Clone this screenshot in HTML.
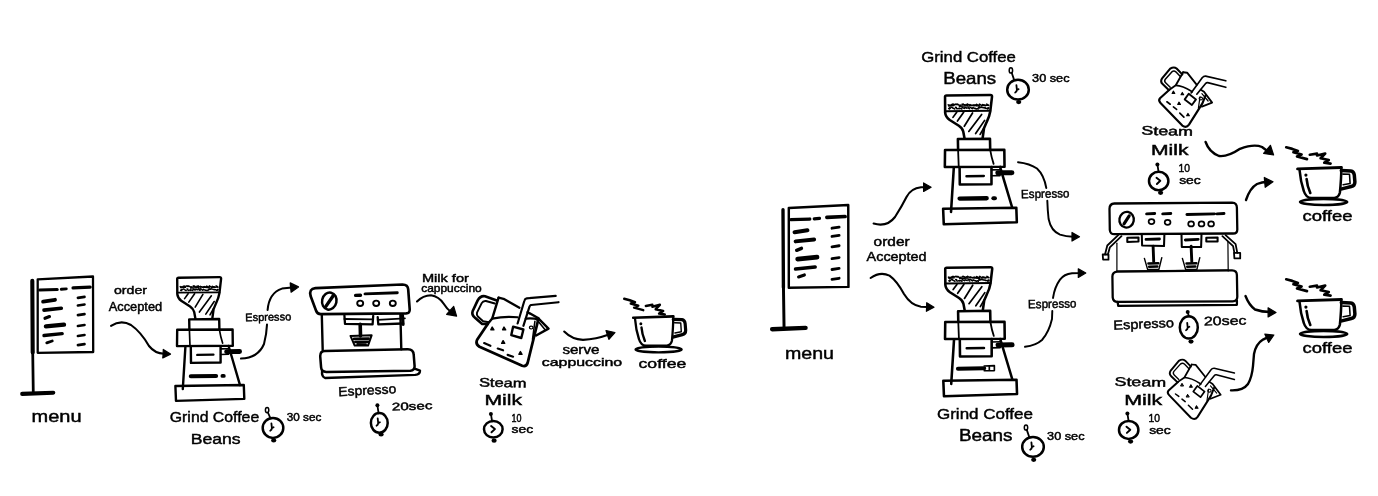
<!DOCTYPE html>
<html><head><meta charset="utf-8"><title>Coffee shop flow</title>
<style>html,body{margin:0;padding:0;background:#fff;}svg{display:block;}text{font-family:"Liberation Sans",sans-serif;fill:#000;}</style>
</head><body>
<svg width="1378" height="496" viewBox="0 0 1378 496">
<rect width="1378" height="496" fill="#fff"/>
<defs><filter id="soft" x="0" y="0" width="100%" height="100%" filterUnits="userSpaceOnUse"><feGaussianBlur stdDeviation="0.45"/></filter></defs>
<g id="art" filter="url(#soft)">
<g transform="translate(37.7 279.3) scale(1.0 1.0)">
<path d="M0 0 L55.3 -2.8 L55.5 72.7 L0 73.5 Z" stroke="#000" stroke-width="2.28" fill="none" stroke-linecap="round" stroke-linejoin="round" />
<path d="M-5.4 1.5 L-5.0 73.2" stroke="#000" stroke-width="4.08" fill="none" stroke-linecap="round" stroke-linejoin="round" />
<path d="M-5.0 71.2 L-4.4 114.2" stroke="#000" stroke-width="2.76" fill="none" stroke-linecap="round" stroke-linejoin="round" />
<path d="M-15.5 114.60000000000001 L15.6 113.4" stroke="#000" stroke-width="4.08" fill="none" stroke-linecap="round" stroke-linejoin="round" />
<path d="M2 10.7 L19.5 10.2" stroke="#000" stroke-width="3.12" fill="none" stroke-linecap="round" stroke-linejoin="round" />
<path d="M23.6 10 L28.6 9.6" stroke="#000" stroke-width="2.88" fill="none" stroke-linecap="round" stroke-linejoin="round" />
<path d="M35.4 8.6 L52.4 7.8" stroke="#000" stroke-width="3.36" fill="none" stroke-linecap="round" stroke-linejoin="round" />
<path d="M5.4 22.299999999999997 L17.3 20.5" stroke="#000" stroke-width="3.84" fill="none" stroke-linecap="round" stroke-linejoin="round" />
<path d="M6.3 30.799999999999997 L23.6 29.0" stroke="#000" stroke-width="3.6" fill="none" stroke-linecap="round" stroke-linejoin="round" />
<path d="M7.3 39.0 L11.8 37.2" stroke="#000" stroke-width="3.12" fill="none" stroke-linecap="round" stroke-linejoin="round" />
<path d="M8.2 47.1 L26.3 45.300000000000004" stroke="#000" stroke-width="4.32" fill="none" stroke-linecap="round" stroke-linejoin="round" />
<path d="M6.3 56.199999999999996 L24.5 54.4" stroke="#000" stroke-width="3.36" fill="none" stroke-linecap="round" stroke-linejoin="round" />
<path d="M9.1 63.5 L14.5 61.7" stroke="#000" stroke-width="2.88" fill="none" stroke-linecap="round" stroke-linejoin="round" />
<path d="M40.2 18.6 L46.8 17.6" stroke="#000" stroke-width="2.64" fill="none" stroke-linecap="round" stroke-linejoin="round" />
<path d="M40.2 26.2 L46.8 25.2" stroke="#000" stroke-width="2.64" fill="none" stroke-linecap="round" stroke-linejoin="round" />
<path d="M40.2 35.8 L46.8 34.8" stroke="#000" stroke-width="2.64" fill="none" stroke-linecap="round" stroke-linejoin="round" />
<path d="M40.2 46.7 L46.8 45.7" stroke="#000" stroke-width="2.64" fill="none" stroke-linecap="round" stroke-linejoin="round" />
<path d="M40.2 56.7 L46.8 55.7" stroke="#000" stroke-width="2.64" fill="none" stroke-linecap="round" stroke-linejoin="round" />
<path d="M40.2 65.8 L46.8 64.8" stroke="#000" stroke-width="2.64" fill="none" stroke-linecap="round" stroke-linejoin="round" />
</g>
<text x="31.6" y="421.7" font-size="16.5" textLength="50" lengthAdjust="spacingAndGlyphs" font-weight="normal" font-style="normal" stroke="#000" stroke-width="0.45">menu</text>
<text x="114" y="294" font-size="11.5" textLength="33" lengthAdjust="spacingAndGlyphs" font-weight="normal" font-style="normal" stroke="#000" stroke-width="0.45">order</text>
<text x="108.7" y="310.5" font-size="12" textLength="53.5" lengthAdjust="spacingAndGlyphs" font-weight="normal" font-style="normal" stroke="#000" stroke-width="0.45">Accepted</text>
<path d="M111 325.8 Q121 319.5 131 325 Q141 332 149 346 Q155 353.5 164 353.8" stroke="#000" stroke-width="2.1" fill="none" stroke-linecap="round" stroke-linejoin="round" />
<polygon points="170.5,354.1 163.3,349.4 163.1,353.7 162.8,358.0" fill="#000" stroke="#000" stroke-width="1.2" stroke-linejoin="round"/>
<g transform="translate(176.6 277.1) scale(1.0 1.0)">
<path d="M0.6 2 Q0.4 0.6 2 0.6 L43 0 Q44.6 0 44.5 1.6 L42.9 15.6 Q42 21 39.5 26 L37 32 L35.7 41.5 M0.6 2 L0.7 17 Q1 21 5 24 L13.5 29.5 Q17 32 17.6 35 L18.8 41.5" stroke="#000" stroke-width="2.4" fill="none" stroke-linecap="round" stroke-linejoin="round" />
<path d="M0.8 15.6 L42.9 15.2" stroke="#000" stroke-width="1.8" fill="none" stroke-linecap="round" stroke-linejoin="round" />
<path d="M3.6 9.5 l0.7 0.5 M4.0 13.1 l0.8 0.3 M4.9 9.7 l0.7 0.5 M4.8 12.3 l0.8 0.3 M6.3 9.4 l0.7 0.5 M6.6 11.8 l0.8 0.3 M7.3 8.9 l0.7 0.5 M7.7 12.5 l0.8 0.3 M8.3 8.9 l0.7 0.5 M8.8 13.1 l0.8 0.3 M10.1 8.8 l0.7 0.5 M10.4 11.8 l0.8 0.3 M11.3 8.8 l0.7 0.5 M11.2 13.0 l0.8 0.3 M12.3 8.9 l0.7 0.5 M13.0 13.0 l0.8 0.3 M13.6 9.8 l0.7 0.5 M14.1 12.7 l0.8 0.3 M14.8 9.7 l0.7 0.5 M15.4 13.1 l0.8 0.3 M16.5 9.0 l0.7 0.5 M16.5 11.9 l0.8 0.3 M17.4 8.7 l0.7 0.5 M17.8 12.6 l0.8 0.3 M18.6 9.4 l0.7 0.5 M19.1 12.1 l0.8 0.3 M20.3 9.2 l0.7 0.5 M20.3 12.4 l0.8 0.3 M21.5 8.7 l0.7 0.5 M22.0 11.6 l0.8 0.3 M22.8 9.6 l0.7 0.5 M22.7 12.9 l0.8 0.3 M23.9 9.3 l0.7 0.5 M24.0 11.7 l0.8 0.3 M25.1 9.7 l0.7 0.5 M25.4 12.8 l0.8 0.3 M26.8 9.7 l0.7 0.5 M26.7 12.2 l0.8 0.3 M27.8 9.5 l0.7 0.5 M27.9 12.8 l0.8 0.3 M29.3 9.6 l0.7 0.5 M29.1 13.1 l0.8 0.3 M30.1 9.0 l0.7 0.5 M30.7 13.1 l0.8 0.3 M31.6 9.7 l0.7 0.5 M32.0 12.1 l0.8 0.3 M32.8 8.8 l0.7 0.5 M33.0 11.8 l0.8 0.3 M34.3 9.8 l0.7 0.5 M34.3 11.7 l0.8 0.3 M35.8 9.2 l0.7 0.5 M35.7 12.0 l0.8 0.3 M36.8 9.6 l0.7 0.5 M37.1 12.3 l0.8 0.3 M37.8 9.7 l0.7 0.5 M38.1 12.4 l0.8 0.3 M39.5 8.8 l0.7 0.5 M39.8 13.1 l0.8 0.3 M40.7 9.5 l0.7 0.5 M40.7 12.3 l0.8 0.3 " stroke="#000" stroke-width="1.5" fill="none" stroke-linecap="round" stroke-linejoin="round" />
<path d="M4 10.6 L9 10.2 M14 11 L22 10.4 M26 10 L33 10.8 M35 10.2 L41 10" stroke="#000" stroke-width="1.32" fill="none" stroke-linecap="round" stroke-linejoin="round" />
<path d="M11.5 16.6 L8 21.5 M18 16.6 L12.2 25 M26.3 17.3 L18.6 30 M34.8 18.7 L22.8 35 M37.6 24.4 L29.2 37 M37 31.4 L33.4 37.8 " stroke="#000" stroke-width="1.62" fill="none" stroke-linecap="round" stroke-linejoin="round" />
<path d="M12.6 42.3 L42.6 41.9 L42.8 52.6 M12.6 42.3 L12.8 52.6" stroke="#000" stroke-width="2.4" fill="none" stroke-linecap="round" stroke-linejoin="round" />
<path d="M0.6 52.7 L56 52.4 L56.2 68.7 L0.4 69 Z" stroke="#000" stroke-width="2.4" fill="none" stroke-linecap="round" stroke-linejoin="round" />
<path d="M12.8 52.6 L13.4 69 M42.8 52.6 Q44 60 46 66" stroke="#000" stroke-width="1.68" fill="none" stroke-linecap="round" stroke-linejoin="round" />
<path d="M8.8 69.5 L6.2 112 M52 68.9 L63.4 108" stroke="#000" stroke-width="2.4" fill="none" stroke-linecap="round" stroke-linejoin="round" />
<path d="M14.2 69.4 L14.4 85.8 L44 85.4 L44 69" stroke="#000" stroke-width="2.4" fill="none" stroke-linecap="round" stroke-linejoin="round" />
<path d="M44 71.8 L52 71.6 M44 77.4 L52 77.2" stroke="#000" stroke-width="1.56" fill="none" stroke-linecap="round" stroke-linejoin="round" />
<path d="M50 74.6 L63 74.4" stroke="#000" stroke-width="4.8" fill="none" stroke-linecap="round" stroke-linejoin="round" />
<path d="M20.7 77.8 L36.8 77.5" stroke="#000" stroke-width="2.4" fill="none" stroke-linecap="round" stroke-linejoin="round" />
<path d="M14.2 99.2 L39.5 98.9" stroke="#000" stroke-width="4.08" fill="none" stroke-linecap="round" stroke-linejoin="round" />
<path d="M45.8 98.8 L47.2 98.8" stroke="#000" stroke-width="3.84" fill="none" stroke-linecap="round" stroke-linejoin="round" />
<path d="M-1.2 108.9 L67.2 107.9 L67.7 121.8 L-0.6 123.8 Z" stroke="#000" stroke-width="2.4" fill="none" stroke-linecap="round" stroke-linejoin="round" />
</g>
<text x="245.3" y="321.2" font-size="11" textLength="46" lengthAdjust="spacingAndGlyphs" transform="rotate(-1 245.3 321.2)" font-weight="normal" font-style="normal" stroke="#000" stroke-width="0.45">Espresso</text>
<path d="M241 358.6 Q258 358 264 344 Q266.6 334 267 324.6 M267.6 310 Q269 293 282 288.6 L292 287.4" stroke="#000" stroke-width="2.04" fill="none" stroke-linecap="round" stroke-linejoin="round" />
<polygon points="298.5,286.9 290.2,282.9 290.6,287.6 291.1,292.2" fill="#000" stroke="#000" stroke-width="1.2" stroke-linejoin="round"/>
<text x="169.8" y="421.7" font-size="15.5" textLength="89.4" lengthAdjust="spacingAndGlyphs" font-weight="normal" font-style="normal" stroke="#000" stroke-width="0.45">Grind Coffee</text>
<text x="190.7" y="443.8" font-size="15.5" textLength="50" lengthAdjust="spacingAndGlyphs" font-weight="normal" font-style="normal" stroke="#000" stroke-width="0.45">Beans</text>
<g transform="translate(273 427.9) scale(1.0) rotate(0)">
<ellipse cx="0" cy="0" rx="10.3" ry="10" fill="none" stroke="#000" stroke-width="2.5"/>
<ellipse cx="-5.9" cy="-17.8" rx="1.7" ry="2.6" fill="none" stroke="#000" stroke-width="1.5"/>
<path d="M-5.1000000000000005 -15.4 L-2.6000000000000005 -9.7" stroke="#000" stroke-width="1.8" fill="none" stroke-linecap="round" stroke-linejoin="round" />
<ellipse cx="0.7" cy="12.5" rx="2.6" ry="2.1" fill="#000"/>
<path d="M-1.6 -4.5 L-1.1 0.2 L0.6 -0.6 M-1.1 0.2 Q-1.2 2 -2.8 2.8" stroke="#000" stroke-width="1.8" fill="none" stroke-linecap="round" stroke-linejoin="round" />
</g>
<text x="286.8" y="421.3" font-size="10.5" textLength="34.5" lengthAdjust="spacingAndGlyphs" font-weight="normal" font-style="normal" stroke="#000" stroke-width="0.45">30 sec</text>
<path d="M315.4 288.1 L402.5 284.5 Q407.9 284.5 408.2 289.4 L409.7 309.3 Q410.0 313.2 406.1 313.4 L320.8 314.1 Q317.2 314.1 316.0 310.5 L310.6 296.0 Q308.7 288.7 315.4 288.1 Z" stroke="#000" stroke-width="2.64" fill="none" stroke-linecap="round" stroke-linejoin="round" />
<ellipse cx="329.3" cy="301.1" rx="7.2" ry="8.6" fill="none" stroke="#000" stroke-width="2.5" transform="rotate(12 329.3 301.1)"/>
<path d="M325.7 306.6 L333.2 295.7" stroke="#000" stroke-width="3.36" fill="none" stroke-linecap="round" stroke-linejoin="round" />
<path d="M355.6 295.4 L360.5 295.2" stroke="#000" stroke-width="3.36" fill="none" stroke-linecap="round" stroke-linejoin="round" />
<path d="M365.0 293.9 L397.3 292.7" stroke="#000" stroke-width="2.88" fill="none" stroke-linecap="round" stroke-linejoin="round" />
<ellipse cx="360.2" cy="303.3" rx="3" ry="2.7" fill="none" stroke="#000" stroke-width="1.9"/>
<ellipse cx="376.2" cy="303.3" rx="3" ry="2.7" fill="none" stroke="#000" stroke-width="1.9"/>
<ellipse cx="392.8" cy="303.3" rx="3" ry="2.7" fill="none" stroke="#000" stroke-width="1.9"/>
<path d="M321.8 314.8 L322.7 350.1" stroke="#000" stroke-width="2.4" fill="none" stroke-linecap="round" stroke-linejoin="round" />
<path d="M400.4 314.8 L401.3 349.2" stroke="#000" stroke-width="2.4" fill="none" stroke-linecap="round" stroke-linejoin="round" />
<path d="M344.4 315.4 L345.0 323.8 L372.6 324.4 L373.2 316.0" stroke="#000" stroke-width="2.28" fill="none" stroke-linecap="round" stroke-linejoin="round" />
<path d="M344.4 319.0 L373.2 319.3" stroke="#000" stroke-width="1.8" fill="none" stroke-linecap="round" stroke-linejoin="round" />
<path d="M377.7 317.2 L378.3 324.4 L403.1 323.5" stroke="#000" stroke-width="2.28" fill="none" stroke-linecap="round" stroke-linejoin="round" />
<path d="M377.7 319.9 L404.9 318.4" stroke="#000" stroke-width="1.8" fill="none" stroke-linecap="round" stroke-linejoin="round" />
<path d="M402.5 315.4 L403.1 324.4" stroke="#000" stroke-width="3.12" fill="none" stroke-linecap="round" stroke-linejoin="round" />
<path d="M360.2 324.4 L360.5 335.9" stroke="#000" stroke-width="3.6" fill="none" stroke-linecap="round" stroke-linejoin="round" />
<path d="M350.5 335.9 L371.6 335.3 L368.0 345.6 L354.7 345.6 Z" stroke="#000" stroke-width="2.04" fill="none" stroke-linecap="round" stroke-linejoin="round" />
<path d="M354.1 338.9 L368.6 338.6 M355.3 342.0 L368.0 341.7 M357.7 344.4 L365.6 344.4" stroke="#000" stroke-width="2.64" fill="none" stroke-linecap="round" stroke-linejoin="round" />
<path d="M324.8 351.0 L407.9 349.2 Q413.4 349.2 413.7 354.7 L414.6 366.2 Q414.6 370.4 410.4 370.7 L326.3 371.9 Q321.4 371.9 321.1 367.4 L320.2 356.2 Q320.2 351.0 324.8 351.0 Z" stroke="#000" stroke-width="2.52" fill="none" stroke-linecap="round" stroke-linejoin="round" />
<path d="M322.1 371.0 Q321.4 376.4 325.1 378.0 L415.2 374.9 Q420.0 374.3 420.0 370.7 L414.6 368.6" stroke="#000" stroke-width="2.4" fill="none" stroke-linecap="round" stroke-linejoin="round" />
<text x="338.5" y="396.2" font-size="13" textLength="58" lengthAdjust="spacingAndGlyphs" transform="rotate(-3 338.5 396.2)" font-weight="normal" font-style="normal" stroke="#000" stroke-width="0.45">Espresso</text>
<g transform="translate(379.3 422.9) scale(1.0) rotate(0)">
<ellipse cx="0" cy="0" rx="8.4" ry="9.8" fill="none" stroke="#000" stroke-width="2.5"/>
<circle cx="-1.9" cy="-17.6" r="2.0" fill="#000"/>
<path d="M-1.9 -17.6 L-0.7 -9.5" stroke="#000" stroke-width="1.8" fill="none" stroke-linecap="round" stroke-linejoin="round" />
<ellipse cx="1.8" cy="11.6" rx="2.6" ry="2.1" fill="#000"/>
<path d="M-1.6 -4.5 L-1.1 0.2 L0.6 -0.6 M-1.1 0.2 Q-1.2 2 -2.8 2.8" stroke="#000" stroke-width="1.8" fill="none" stroke-linecap="round" stroke-linejoin="round" />
</g>
<text x="392" y="410.5" font-size="11" textLength="40.5" lengthAdjust="spacingAndGlyphs" transform="rotate(-2 392 410.5)" font-weight="normal" font-style="normal" stroke="#000" stroke-width="0.45">20sec</text>
<text x="421.9" y="282.4" font-size="11.5" textLength="47" lengthAdjust="spacingAndGlyphs" font-weight="normal" font-style="normal" stroke="#000" stroke-width="0.45">Milk for</text>
<text x="421.2" y="291.8" font-size="10.5" textLength="60.5" lengthAdjust="spacingAndGlyphs" font-weight="normal" font-style="normal" stroke="#000" stroke-width="0.45">cappuccino</text>
<path d="M417 301.5 Q423 295.3 431 295.2 Q439 296.5 443.5 303.5 Q447 309 451 312" stroke="#000" stroke-width="2.1" fill="none" stroke-linecap="round" stroke-linejoin="round" />
<polygon points="456.6,316.2 453.7,306.4 450.1,310.4 446.6,314.3" fill="#000" stroke="#000" stroke-width="1.2" stroke-linejoin="round"/>
<g transform="translate(465 285) scale(1.0) rotate(0)">
<path d="M31.8 15.4 L20.0 11.3 Q15.4 10.5 12.7 15.4 L7.6 26.3 Q6.4 29.9 10.0 32.7 L17.2 39.0 L22.7 39.0" stroke="#000" stroke-width="2.64" fill="none" stroke-linecap="round" stroke-linejoin="round" />
<path d="M29.9 18.5 L20.9 16.0 Q18.1 15.6 16.7 18.1 L12.0 27.6 Q11.3 29.9 13.1 31.8 L18.1 36.3 L23.6 37.2" stroke="#000" stroke-width="1.92" fill="none" stroke-linecap="round" stroke-linejoin="round" />
<path d="M33.6 12.7 L27.2 33.6 L22.7 39.0" stroke="#000" stroke-width="2.4" fill="none" stroke-linecap="round" stroke-linejoin="round" />
<path d="M33.6 12.7 L38.5 13.8 L54.4 22.7 " stroke="#000" stroke-width="2.4" fill="none" stroke-linecap="round" stroke-linejoin="round" />
<path d="M62.6 27.2 L72.6 32.7 L83.5 43.6 L71.1 50.5" stroke="#000" stroke-width="2.4" fill="none" stroke-linecap="round" stroke-linejoin="round" />
<path d="M71.7 34.5 L79.9 44.5" stroke="#000" stroke-width="1.56" fill="none" stroke-linecap="round" stroke-linejoin="round" />
<path d="M27.2 33.6 Q39.9 30.9 52.6 32.3 M60.8 33.6 Q67.2 32.7 73.5 34.5" stroke="#000" stroke-width="2.16" fill="none" stroke-linecap="round" stroke-linejoin="round" />
<path d="M22.7 39.0 L12.3 54.4 Q10.0 59.0 14.5 61.7 L57.2 80.8 Q61.3 82.0 62.6 78.0 L72.2 39.0 L73.5 33.6" stroke="#000" stroke-width="2.76" fill="none" stroke-linecap="round" stroke-linejoin="round" />
<path d="M69.9 36.3 L67.5 54.4" stroke="#000" stroke-width="1.56" fill="none" stroke-linecap="round" stroke-linejoin="round" />
<path d="M90.7 10.9 L61.7 13.4 Q59.9 13.6 59.3 16.0 L52.6 38.5" stroke="#000" stroke-width="2.16" fill="none" stroke-linecap="round" stroke-linejoin="round" />
<path d="M93.5 17.2 L66.2 20.0 Q65.0 20.1 64.4 21.8 L58.4 40.8" stroke="#000" stroke-width="2.16" fill="none" stroke-linecap="round" stroke-linejoin="round" />
<path d="M48.1 41.7 L58.4 44.5 L56.3 53.0 L46.3 50.1 Z" stroke="#000" stroke-width="2.4" fill="#fff" stroke-linecap="round" stroke-linejoin="round" />
<path d="M25.8 44.8 L27.2 42.1 L28.9 44.8 Z" stroke="#000" stroke-width="1.44" fill="#000" stroke-linecap="round" stroke-linejoin="round" />
<path d="M37.6 44.8 L39.0 42.1 L40.7 44.8 Z" stroke="#000" stroke-width="1.44" fill="#000" stroke-linecap="round" stroke-linejoin="round" />
<path d="M36.7 58.4 L38.1 55.7 L39.7 58.4 Z" stroke="#000" stroke-width="1.44" fill="#000" stroke-linecap="round" stroke-linejoin="round" />
<path d="M53.9 69.3 L55.4 66.6 L57.0 69.3 Z" stroke="#000" stroke-width="1.44" fill="#000" stroke-linecap="round" stroke-linejoin="round" />
<ellipse cx="66.2" cy="42.6" rx="1.8" ry="1.4" fill="none" stroke="#000" stroke-width="1.2"/>
<path d="M19.1 58.1 L25.4 60.8 M32.7 63.5 L38.1 65.3 M42.6 69.9 L48.1 71.7" stroke="#000" stroke-width="2.16" fill="none" stroke-linecap="round" stroke-linejoin="round" />
</g>
<text x="478.9" y="386.4" font-size="12.5" textLength="47.5" lengthAdjust="spacingAndGlyphs" transform="rotate(1.5 478.9 386.4)" font-weight="normal" font-style="normal" stroke="#000" stroke-width="0.45">Steam</text>
<text x="484.5" y="404.7" font-size="14.5" textLength="37.5" lengthAdjust="spacingAndGlyphs" font-weight="normal" font-style="normal" stroke="#000" stroke-width="0.45">Milk</text>
<g transform="translate(493.3 429.3) scale(1.0) rotate(0)">
<ellipse cx="0" cy="0" rx="9.3" ry="8.3" fill="none" stroke="#000" stroke-width="2.5"/>
<circle cx="-2.4" cy="-15.4" r="2.0" fill="#000"/>
<path d="M-2.4 -15.4 L-1.2 -8.0" stroke="#000" stroke-width="1.8" fill="none" stroke-linecap="round" stroke-linejoin="round" />
<ellipse cx="0.8" cy="11.4" rx="2.6" ry="2.1" fill="#000"/>
<path d="M-2.2 -3.2 L1.6 -0.2 L-1.8 3.0" stroke="#000" stroke-width="1.92" fill="none" stroke-linecap="round" stroke-linejoin="round" />
</g>
<text x="511.6" y="422.3" font-size="10.5" textLength="10" lengthAdjust="spacingAndGlyphs" font-weight="normal" font-style="normal" stroke="#000" stroke-width="0.45">10</text>
<text x="511.6" y="432.8" font-size="10.5" textLength="21.5" lengthAdjust="spacingAndGlyphs" font-weight="normal" font-style="normal" stroke="#000" stroke-width="0.45">sec</text>
<path d="M564.2 331.6 Q572 339.5 583 339.9 Q596 339.3 609 334.6" stroke="#000" stroke-width="2.1" fill="none" stroke-linecap="round" stroke-linejoin="round" />
<polygon points="614.9,332.5 606.0,330.5 607.4,335.0 608.9,339.4" fill="#000" stroke="#000" stroke-width="1.2" stroke-linejoin="round"/>
<text x="562.4" y="354.4" font-size="12" textLength="37" lengthAdjust="spacingAndGlyphs" font-weight="normal" font-style="normal" stroke="#000" stroke-width="0.45">serve</text>
<text x="541.8" y="366.4" font-size="11.5" textLength="80.4" lengthAdjust="spacingAndGlyphs" font-weight="normal" font-style="normal" stroke="#000" stroke-width="0.45">cappuccino</text>
<g transform="translate(633.9 317.4) scale(0.915 0.96)">
<path d="M-0.8 0.4 L43.2 -1" stroke="#000" stroke-width="2.76" fill="none" stroke-linecap="round" stroke-linejoin="round" />
<path d="M1.2 1.2 Q2.2 13 5.5 22.5 Q7.5 29 13 29.6 L36 29.4 Q40.5 29 41.6 24 Q43 10 43 0" stroke="#000" stroke-width="2.52" fill="none" stroke-linecap="round" stroke-linejoin="round" />
<path d="M43 2 L52.5 2.4 Q55.6 2.8 56 6.5 L56.6 13.5 Q56.6 17.4 53 18 L43.5 20.4" stroke="#000" stroke-width="3.48" fill="none" stroke-linecap="round" stroke-linejoin="round" />
<path d="M44.5 5.6 L51.2 5.8 L51.8 15 L44.8 16.2" stroke="#000" stroke-width="1.56" fill="none" stroke-linecap="round" stroke-linejoin="round" />
<ellipse cx="27" cy="33.4" rx="25.2" ry="3.0" fill="#fff" stroke="#000" stroke-width="2.5"/>
<circle cx="7.6" cy="6.6" r="1.6" fill="#000"/>
<path d="M8.3 10.5 Q8.8 17 12 24.5" stroke="#000" stroke-width="2.64" fill="none" stroke-linecap="round" stroke-linejoin="round" />
<g transform="translate(1.5 1.8)">
<path d="M-12.1 -21.2 L-6 -19.6 L-0.3 -17.6 L-4.9 -16.2 L3.3 -14 L-1.3 -12 L8.7 -9.4" stroke="#000" stroke-width="2.64" fill="none" stroke-linecap="round" stroke-linejoin="round" />
<path d="M11.5 -13.8 L18.7 -14.9 M18.7 -13 L26.9 -14.9 L22.3 -10.3 L30.5 -8.5 L26 -5.8 L32.3 -4.9" stroke="#000" stroke-width="2.64" fill="none" stroke-linecap="round" stroke-linejoin="round" />
</g>
</g>
<text x="638.5" y="367.8" font-size="13.5" textLength="47.8" lengthAdjust="spacingAndGlyphs" font-weight="normal" font-style="normal" stroke="#000" stroke-width="0.45">coffee</text>
<g transform="translate(788.8 208) scale(1.075 1.085)">
<path d="M0 0 L55.3 -2.8 L55.5 72.7 L0 73.5 Z" stroke="#000" stroke-width="2.28" fill="none" stroke-linecap="round" stroke-linejoin="round" />
<path d="M-5.4 1.5 L-5.0 73.2" stroke="#000" stroke-width="3.12" fill="none" stroke-linecap="round" stroke-linejoin="round" />
<path d="M-5.0 71.2 L-4.4 111.3" stroke="#000" stroke-width="2.76" fill="none" stroke-linecap="round" stroke-linejoin="round" />
<path d="M-15.5 111.7 L15.6 110.5" stroke="#000" stroke-width="4.08" fill="none" stroke-linecap="round" stroke-linejoin="round" />
<path d="M2 10.7 L19.5 10.2" stroke="#000" stroke-width="3.12" fill="none" stroke-linecap="round" stroke-linejoin="round" />
<path d="M23.6 10 L28.6 9.6" stroke="#000" stroke-width="2.88" fill="none" stroke-linecap="round" stroke-linejoin="round" />
<path d="M35.4 8.6 L52.4 7.8" stroke="#000" stroke-width="3.36" fill="none" stroke-linecap="round" stroke-linejoin="round" />
<path d="M5.4 22.299999999999997 L17.3 20.5" stroke="#000" stroke-width="3.84" fill="none" stroke-linecap="round" stroke-linejoin="round" />
<path d="M6.3 30.799999999999997 L23.6 29.0" stroke="#000" stroke-width="3.6" fill="none" stroke-linecap="round" stroke-linejoin="round" />
<path d="M7.3 39.0 L11.8 37.2" stroke="#000" stroke-width="3.12" fill="none" stroke-linecap="round" stroke-linejoin="round" />
<path d="M8.2 47.1 L26.3 45.300000000000004" stroke="#000" stroke-width="4.32" fill="none" stroke-linecap="round" stroke-linejoin="round" />
<path d="M6.3 56.199999999999996 L24.5 54.4" stroke="#000" stroke-width="3.36" fill="none" stroke-linecap="round" stroke-linejoin="round" />
<path d="M9.1 63.5 L14.5 61.7" stroke="#000" stroke-width="2.88" fill="none" stroke-linecap="round" stroke-linejoin="round" />
<path d="M40.2 18.6 L46.8 17.6" stroke="#000" stroke-width="2.64" fill="none" stroke-linecap="round" stroke-linejoin="round" />
<path d="M40.2 26.2 L46.8 25.2" stroke="#000" stroke-width="2.64" fill="none" stroke-linecap="round" stroke-linejoin="round" />
<path d="M40.2 35.8 L46.8 34.8" stroke="#000" stroke-width="2.64" fill="none" stroke-linecap="round" stroke-linejoin="round" />
<path d="M40.2 46.7 L46.8 45.7" stroke="#000" stroke-width="2.64" fill="none" stroke-linecap="round" stroke-linejoin="round" />
<path d="M40.2 56.7 L46.8 55.7" stroke="#000" stroke-width="2.64" fill="none" stroke-linecap="round" stroke-linejoin="round" />
<path d="M40.2 65.8 L46.8 64.8" stroke="#000" stroke-width="2.64" fill="none" stroke-linecap="round" stroke-linejoin="round" />
</g>
<text x="785" y="358.7" font-size="17" textLength="49" lengthAdjust="spacingAndGlyphs" font-weight="normal" font-style="normal" stroke="#000" stroke-width="0.45">menu</text>
<text x="873.6" y="246" font-size="12" textLength="36" lengthAdjust="spacingAndGlyphs" font-weight="normal" font-style="normal" stroke="#000" stroke-width="0.45">order</text>
<text x="866.6" y="260.8" font-size="12.5" textLength="60" lengthAdjust="spacingAndGlyphs" font-weight="normal" font-style="normal" stroke="#000" stroke-width="0.45">Accepted</text>
<path d="M873.6 223.6 Q887 227.5 895 217 Q902 206 906.5 197 Q911 188.3 921 187.3 L925 187.2" stroke="#000" stroke-width="2.1" fill="none" stroke-linecap="round" stroke-linejoin="round" />
<polygon points="931.1,187.2 923.6,182.9 923.6,187.2 923.6,191.5" fill="#000" stroke="#000" stroke-width="1.2" stroke-linejoin="round"/>
<path d="M870.6 278 Q880 271.3 889.5 275.6 Q897 281 904 294 Q911 305.4 921 306.7 L927 307" stroke="#000" stroke-width="2.1" fill="none" stroke-linecap="round" stroke-linejoin="round" />
<polygon points="934.0,307.3 926.7,302.7 926.6,307.0 926.4,311.3" fill="#000" stroke="#000" stroke-width="1.2" stroke-linejoin="round"/>
<text x="921.3" y="61.6" font-size="15.5" textLength="94.5" lengthAdjust="spacingAndGlyphs" font-weight="normal" font-style="normal" stroke="#000" stroke-width="0.45">Grind Coffee</text>
<text x="943.2" y="83.6" font-size="16.5" textLength="53" lengthAdjust="spacingAndGlyphs" font-weight="normal" font-style="normal" stroke="#000" stroke-width="0.45">Beans</text>
<g transform="translate(1018 89.7) scale(1.0) rotate(0)">
<ellipse cx="0" cy="0" rx="10.8" ry="9.9" fill="none" stroke="#000" stroke-width="2.5"/>
<ellipse cx="-7.1" cy="-19.3" rx="1.7" ry="2.6" fill="none" stroke="#000" stroke-width="1.5"/>
<path d="M-6.3 -16.900000000000002 L-3.8 -9.6" stroke="#000" stroke-width="1.8" fill="none" stroke-linecap="round" stroke-linejoin="round" />
<ellipse cx="0.7" cy="12.4" rx="2.6" ry="2.1" fill="#000"/>
<path d="M-1.6 -4.5 L-1.1 0.2 L0.6 -0.6 M-1.1 0.2 Q-1.2 2 -2.8 2.8" stroke="#000" stroke-width="1.8" fill="none" stroke-linecap="round" stroke-linejoin="round" />
</g>
<text x="1032.1" y="81.6" font-size="10.5" textLength="37.4" lengthAdjust="spacingAndGlyphs" font-weight="normal" font-style="normal" stroke="#000" stroke-width="0.45">30 sec</text>
<g transform="translate(944.4 94.9) scale(1.07 1.045)">
<path d="M0.6 2 Q0.4 0.6 2 0.6 L43 0 Q44.6 0 44.5 1.6 L42.9 15.6 Q42 21 39.5 26 L37 32 L35.7 41.5 M0.6 2 L0.7 17 Q1 21 5 24 L13.5 29.5 Q17 32 17.6 35 L18.8 41.5" stroke="#000" stroke-width="2.4" fill="none" stroke-linecap="round" stroke-linejoin="round" />
<path d="M0.8 15.6 L42.9 15.2" stroke="#000" stroke-width="1.8" fill="none" stroke-linecap="round" stroke-linejoin="round" />
<path d="M3.6 9.5 l0.7 0.5 M4.0 13.1 l0.8 0.3 M4.9 9.7 l0.7 0.5 M4.8 12.3 l0.8 0.3 M6.3 9.4 l0.7 0.5 M6.6 11.8 l0.8 0.3 M7.3 8.9 l0.7 0.5 M7.7 12.5 l0.8 0.3 M8.3 8.9 l0.7 0.5 M8.8 13.1 l0.8 0.3 M10.1 8.8 l0.7 0.5 M10.4 11.8 l0.8 0.3 M11.3 8.8 l0.7 0.5 M11.2 13.0 l0.8 0.3 M12.3 8.9 l0.7 0.5 M13.0 13.0 l0.8 0.3 M13.6 9.8 l0.7 0.5 M14.1 12.7 l0.8 0.3 M14.8 9.7 l0.7 0.5 M15.4 13.1 l0.8 0.3 M16.5 9.0 l0.7 0.5 M16.5 11.9 l0.8 0.3 M17.4 8.7 l0.7 0.5 M17.8 12.6 l0.8 0.3 M18.6 9.4 l0.7 0.5 M19.1 12.1 l0.8 0.3 M20.3 9.2 l0.7 0.5 M20.3 12.4 l0.8 0.3 M21.5 8.7 l0.7 0.5 M22.0 11.6 l0.8 0.3 M22.8 9.6 l0.7 0.5 M22.7 12.9 l0.8 0.3 M23.9 9.3 l0.7 0.5 M24.0 11.7 l0.8 0.3 M25.1 9.7 l0.7 0.5 M25.4 12.8 l0.8 0.3 M26.8 9.7 l0.7 0.5 M26.7 12.2 l0.8 0.3 M27.8 9.5 l0.7 0.5 M27.9 12.8 l0.8 0.3 M29.3 9.6 l0.7 0.5 M29.1 13.1 l0.8 0.3 M30.1 9.0 l0.7 0.5 M30.7 13.1 l0.8 0.3 M31.6 9.7 l0.7 0.5 M32.0 12.1 l0.8 0.3 M32.8 8.8 l0.7 0.5 M33.0 11.8 l0.8 0.3 M34.3 9.8 l0.7 0.5 M34.3 11.7 l0.8 0.3 M35.8 9.2 l0.7 0.5 M35.7 12.0 l0.8 0.3 M36.8 9.6 l0.7 0.5 M37.1 12.3 l0.8 0.3 M37.8 9.7 l0.7 0.5 M38.1 12.4 l0.8 0.3 M39.5 8.8 l0.7 0.5 M39.8 13.1 l0.8 0.3 M40.7 9.5 l0.7 0.5 M40.7 12.3 l0.8 0.3 " stroke="#000" stroke-width="1.5" fill="none" stroke-linecap="round" stroke-linejoin="round" />
<path d="M4 10.6 L9 10.2 M14 11 L22 10.4 M26 10 L33 10.8 M35 10.2 L41 10" stroke="#000" stroke-width="1.32" fill="none" stroke-linecap="round" stroke-linejoin="round" />
<path d="M11.5 16.6 L8 21.5 M18 16.6 L12.2 25 M26.3 17.3 L18.6 30 M34.8 18.7 L22.8 35 M37.6 24.4 L29.2 37 M37 31.4 L33.4 37.8 " stroke="#000" stroke-width="1.62" fill="none" stroke-linecap="round" stroke-linejoin="round" />
<path d="M12.6 42.3 L42.6 41.9 L42.8 52.6 M12.6 42.3 L12.8 52.6" stroke="#000" stroke-width="2.4" fill="none" stroke-linecap="round" stroke-linejoin="round" />
<path d="M0.6 52.7 L56 52.4 L56.2 68.7 L0.4 69 Z" stroke="#000" stroke-width="2.4" fill="none" stroke-linecap="round" stroke-linejoin="round" />
<path d="M12.8 52.6 L13.4 69 M42.8 52.6 Q44 60 46 66" stroke="#000" stroke-width="1.68" fill="none" stroke-linecap="round" stroke-linejoin="round" />
<path d="M8.8 69.5 L6.2 112 M52 68.9 L63.4 108" stroke="#000" stroke-width="2.4" fill="none" stroke-linecap="round" stroke-linejoin="round" />
<path d="M14.2 69.4 L14.4 85.8 L44 85.4 L44 69" stroke="#000" stroke-width="2.4" fill="none" stroke-linecap="round" stroke-linejoin="round" />
<path d="M44 71.8 L52 71.6 M44 77.4 L52 77.2" stroke="#000" stroke-width="1.56" fill="none" stroke-linecap="round" stroke-linejoin="round" />
<path d="M50 74.6 L63 74.4" stroke="#000" stroke-width="4.8" fill="none" stroke-linecap="round" stroke-linejoin="round" />
<path d="M20.7 77.8 L36.8 77.5" stroke="#000" stroke-width="2.4" fill="none" stroke-linecap="round" stroke-linejoin="round" />
<path d="M14.2 99.2 L39.5 98.9" stroke="#000" stroke-width="4.08" fill="none" stroke-linecap="round" stroke-linejoin="round" />
<path d="M45.8 98.8 L47.2 98.8" stroke="#000" stroke-width="3.84" fill="none" stroke-linecap="round" stroke-linejoin="round" />
<path d="M-1.2 108.9 L67.2 107.9 L67.7 121.8 L-0.6 123.8 Z" stroke="#000" stroke-width="2.4" fill="none" stroke-linecap="round" stroke-linejoin="round" />
</g>
<text x="1021.1" y="198.2" font-size="12" textLength="48.4" lengthAdjust="spacingAndGlyphs" transform="rotate(-1 1021.1 198.2)" font-weight="normal" font-style="normal" stroke="#000" stroke-width="0.45">Espresso</text>
<path d="M1018 162.2 Q1030 163.5 1037 168.5 Q1044 175 1046.3 188 M1047.3 200.6 Q1047.6 210 1048.6 219 Q1051 231 1060 234.6 Q1066 236.6 1073 236.7" stroke="#000" stroke-width="1.92" fill="none" stroke-linecap="round" stroke-linejoin="round" />
<polygon points="1079.5,236.8 1072.0,232.5 1072.0,236.8 1072.0,241.1" fill="#000" stroke="#000" stroke-width="1.2" stroke-linejoin="round"/>
<g transform="translate(944.6 267.2) scale(1.07 1.042)">
<path d="M0.6 2 Q0.4 0.6 2 0.6 L43 0 Q44.6 0 44.5 1.6 L42.9 15.6 Q42 21 39.5 26 L37 32 L35.7 41.5 M0.6 2 L0.7 17 Q1 21 5 24 L13.5 29.5 Q17 32 17.6 35 L18.8 41.5" stroke="#000" stroke-width="2.4" fill="none" stroke-linecap="round" stroke-linejoin="round" />
<path d="M0.8 15.6 L42.9 15.2" stroke="#000" stroke-width="1.8" fill="none" stroke-linecap="round" stroke-linejoin="round" />
<path d="M3.6 9.5 l0.7 0.5 M4.0 13.1 l0.8 0.3 M4.9 9.7 l0.7 0.5 M4.8 12.3 l0.8 0.3 M6.3 9.4 l0.7 0.5 M6.6 11.8 l0.8 0.3 M7.3 8.9 l0.7 0.5 M7.7 12.5 l0.8 0.3 M8.3 8.9 l0.7 0.5 M8.8 13.1 l0.8 0.3 M10.1 8.8 l0.7 0.5 M10.4 11.8 l0.8 0.3 M11.3 8.8 l0.7 0.5 M11.2 13.0 l0.8 0.3 M12.3 8.9 l0.7 0.5 M13.0 13.0 l0.8 0.3 M13.6 9.8 l0.7 0.5 M14.1 12.7 l0.8 0.3 M14.8 9.7 l0.7 0.5 M15.4 13.1 l0.8 0.3 M16.5 9.0 l0.7 0.5 M16.5 11.9 l0.8 0.3 M17.4 8.7 l0.7 0.5 M17.8 12.6 l0.8 0.3 M18.6 9.4 l0.7 0.5 M19.1 12.1 l0.8 0.3 M20.3 9.2 l0.7 0.5 M20.3 12.4 l0.8 0.3 M21.5 8.7 l0.7 0.5 M22.0 11.6 l0.8 0.3 M22.8 9.6 l0.7 0.5 M22.7 12.9 l0.8 0.3 M23.9 9.3 l0.7 0.5 M24.0 11.7 l0.8 0.3 M25.1 9.7 l0.7 0.5 M25.4 12.8 l0.8 0.3 M26.8 9.7 l0.7 0.5 M26.7 12.2 l0.8 0.3 M27.8 9.5 l0.7 0.5 M27.9 12.8 l0.8 0.3 M29.3 9.6 l0.7 0.5 M29.1 13.1 l0.8 0.3 M30.1 9.0 l0.7 0.5 M30.7 13.1 l0.8 0.3 M31.6 9.7 l0.7 0.5 M32.0 12.1 l0.8 0.3 M32.8 8.8 l0.7 0.5 M33.0 11.8 l0.8 0.3 M34.3 9.8 l0.7 0.5 M34.3 11.7 l0.8 0.3 M35.8 9.2 l0.7 0.5 M35.7 12.0 l0.8 0.3 M36.8 9.6 l0.7 0.5 M37.1 12.3 l0.8 0.3 M37.8 9.7 l0.7 0.5 M38.1 12.4 l0.8 0.3 M39.5 8.8 l0.7 0.5 M39.8 13.1 l0.8 0.3 M40.7 9.5 l0.7 0.5 M40.7 12.3 l0.8 0.3 " stroke="#000" stroke-width="1.5" fill="none" stroke-linecap="round" stroke-linejoin="round" />
<path d="M4 10.6 L9 10.2 M14 11 L22 10.4 M26 10 L33 10.8 M35 10.2 L41 10" stroke="#000" stroke-width="1.32" fill="none" stroke-linecap="round" stroke-linejoin="round" />
<path d="M11.5 16.6 L8 21.5 M18 16.6 L12.2 25 M26.3 17.3 L18.6 30 M34.8 18.7 L22.8 35 M37.6 24.4 L29.2 37 M37 31.4 L33.4 37.8 " stroke="#000" stroke-width="1.62" fill="none" stroke-linecap="round" stroke-linejoin="round" />
<path d="M12.6 42.3 L42.6 41.9 L42.8 52.6 M12.6 42.3 L12.8 52.6" stroke="#000" stroke-width="2.4" fill="none" stroke-linecap="round" stroke-linejoin="round" />
<path d="M0.6 52.7 L56 52.4 L56.2 68.7 L0.4 69 Z" stroke="#000" stroke-width="2.4" fill="none" stroke-linecap="round" stroke-linejoin="round" />
<path d="M12.8 52.6 L13.4 69 M42.8 52.6 Q44 60 46 66" stroke="#000" stroke-width="1.68" fill="none" stroke-linecap="round" stroke-linejoin="round" />
<path d="M8.8 69.5 L6.2 112 M52 68.9 L63.4 108" stroke="#000" stroke-width="2.4" fill="none" stroke-linecap="round" stroke-linejoin="round" />
<path d="M14.2 69.4 L14.4 85.8 L44 85.4 L44 69" stroke="#000" stroke-width="2.4" fill="none" stroke-linecap="round" stroke-linejoin="round" />
<path d="M44 71.8 L52 71.6 M44 77.4 L52 77.2" stroke="#000" stroke-width="1.56" fill="none" stroke-linecap="round" stroke-linejoin="round" />
<path d="M50 74.6 L63 74.4" stroke="#000" stroke-width="4.8" fill="none" stroke-linecap="round" stroke-linejoin="round" />
<path d="M20.7 77.8 L36.8 77.5" stroke="#000" stroke-width="2.4" fill="none" stroke-linecap="round" stroke-linejoin="round" />
<path d="M12.5 97.4 L37 97" stroke="#000" stroke-width="3.84" fill="none" stroke-linecap="round" stroke-linejoin="round" />
<path d="M37 94.8 L46.5 94.4 L46.5 99.2 L37 99.4 M41.8 94.8 L41.8 99" stroke="#000" stroke-width="1.56" fill="none" stroke-linecap="round" stroke-linejoin="round" />
<path d="M-1.2 108.9 L67.2 107.9 L67.7 121.8 L-0.6 123.8 Z" stroke="#000" stroke-width="2.4" fill="none" stroke-linecap="round" stroke-linejoin="round" />
</g>
<text x="1028.1" y="308.3" font-size="12" textLength="48.4" lengthAdjust="spacingAndGlyphs" transform="rotate(-1 1028.1 308.3)" font-weight="normal" font-style="normal" stroke="#000" stroke-width="0.45">Espresso</text>
<path d="M1025 346.8 Q1036 345.4 1042 340 Q1049 332 1052 319 L1052.3 311 M1053 298 Q1054.6 287 1060 279.6 Q1064 274 1072 273.2 L1079 273.1" stroke="#000" stroke-width="1.92" fill="none" stroke-linecap="round" stroke-linejoin="round" />
<polygon points="1085.8,273.1 1078.3,268.8 1078.3,273.1 1078.3,277.4" fill="#000" stroke="#000" stroke-width="1.2" stroke-linejoin="round"/>
<text x="937" y="418.6" font-size="15.5" textLength="96" lengthAdjust="spacingAndGlyphs" font-weight="normal" font-style="normal" stroke="#000" stroke-width="0.45">Grind Coffee</text>
<text x="958.9" y="440.8" font-size="16.5" textLength="53.6" lengthAdjust="spacingAndGlyphs" font-weight="normal" font-style="normal" stroke="#000" stroke-width="0.45">Beans</text>
<g transform="translate(1033 446.9) scale(1.0) rotate(0)">
<ellipse cx="0" cy="0" rx="10.8" ry="9.9" fill="none" stroke="#000" stroke-width="2.5"/>
<ellipse cx="-7" cy="-19.4" rx="1.7" ry="2.6" fill="none" stroke="#000" stroke-width="1.5"/>
<path d="M-6.2 -17.0 L-3.7 -9.6" stroke="#000" stroke-width="1.8" fill="none" stroke-linecap="round" stroke-linejoin="round" />
<ellipse cx="0.7" cy="12.9" rx="2.6" ry="2.1" fill="#000"/>
<path d="M-1.6 -4.5 L-1.1 0.2 L0.6 -0.6 M-1.1 0.2 Q-1.2 2 -2.8 2.8" stroke="#000" stroke-width="1.8" fill="none" stroke-linecap="round" stroke-linejoin="round" />
</g>
<text x="1047.1" y="440.2" font-size="10.5" textLength="37.4" lengthAdjust="spacingAndGlyphs" font-weight="normal" font-style="normal" stroke="#000" stroke-width="0.45">30 sec</text>
<path d="M1114.4 203.5 L1232.1 202.6 Q1236.9 202.9 1236.9 207.7 L1237.3 229.4 Q1237.3 233.5 1233.1 233.5 L1114.4 234.2 Q1110.2 234.2 1109.8 230.0 L1109.5 208.7 Q1109.5 203.9 1114.4 203.5 Z" stroke="#000" stroke-width="2.28" fill="none" stroke-linecap="round" stroke-linejoin="round" />
<ellipse cx="1126.6" cy="219.7" rx="7.2" ry="7.9" fill="none" stroke="#000" stroke-width="2.3" transform="rotate(10 1126.6 219.7)"/>
<path d="M1124.0 223.9 L1129.2 215.8" stroke="#000" stroke-width="3.12" fill="none" stroke-linecap="round" stroke-linejoin="round" />
<path d="M1146.6 213.9 L1154.7 213.5 M1162.7 213.9 L1170.8 213.5" stroke="#000" stroke-width="2.88" fill="none" stroke-linecap="round" stroke-linejoin="round" />
<path d="M1186.9 214.5 L1214.4 213.9 M1216.9 213.9 L1224.0 213.5" stroke="#000" stroke-width="2.88" fill="none" stroke-linecap="round" stroke-linejoin="round" />
<ellipse cx="1151.5" cy="221.6" rx="2.9" ry="2.5" fill="none" stroke="#000" stroke-width="1.7"/>
<ellipse cx="1167.6" cy="222.3" rx="2.9" ry="2.5" fill="none" stroke="#000" stroke-width="1.7"/>
<ellipse cx="1191.1" cy="223.9" rx="2.9" ry="2.5" fill="none" stroke="#000" stroke-width="1.7"/>
<ellipse cx="1201.5" cy="223.9" rx="2.9" ry="2.5" fill="none" stroke="#000" stroke-width="1.7"/>
<ellipse cx="1211.1" cy="223.9" rx="2.9" ry="2.5" fill="none" stroke="#000" stroke-width="1.7"/>
<path d="M1118.2 235.2 L1107.3 245.5 L1105.0 254.5" stroke="#000" stroke-width="1.8" fill="none" stroke-linecap="round" stroke-linejoin="round" />
<path d="M1121.5 236.1 L1109.8 247.4 L1107.9 254.5" stroke="#000" stroke-width="1.8" fill="none" stroke-linecap="round" stroke-linejoin="round" />
<path d="M1102.7 254.5 L1108.5 254.5 L1108.5 259.7 L1103.1 259.7 Z" stroke="#000" stroke-width="1.8" fill="none" stroke-linecap="round" stroke-linejoin="round" />
<path d="M1225.6 235.2 L1235.6 244.2 L1237.3 252.9" stroke="#000" stroke-width="1.8" fill="none" stroke-linecap="round" stroke-linejoin="round" />
<path d="M1222.4 236.1 L1233.1 246.1 L1234.4 252.9" stroke="#000" stroke-width="1.8" fill="none" stroke-linecap="round" stroke-linejoin="round" />
<path d="M1234.0 252.9 L1240.2 252.9 L1240.2 258.4 L1234.4 258.4 Z" stroke="#000" stroke-width="1.8" fill="none" stroke-linecap="round" stroke-linejoin="round" />
<path d="M1116.9 243.2 L1116.9 271.0" stroke="#000" stroke-width="1.2" fill="none" stroke-linecap="round" stroke-linejoin="round" />
<path d="M1227.9 241.6 L1228.2 271.0" stroke="#000" stroke-width="1.2" fill="none" stroke-linecap="round" stroke-linejoin="round" />
<path d="M1141.8 234.5 L1142.1 245.5 L1164.0 246.1 L1164.4 234.5" stroke="#000" stroke-width="2.04" fill="none" stroke-linecap="round" stroke-linejoin="round" />
<path d="M1146.0 239.4 L1159.5 239.0" stroke="#000" stroke-width="2.76" fill="none" stroke-linecap="round" stroke-linejoin="round" />
<path d="M1127.3 237.7 L1138.5 237.4 L1138.5 241.6 L1127.3 241.9 Z" stroke="#000" stroke-width="2.04" fill="none" stroke-linecap="round" stroke-linejoin="round" />
<path d="M1181.5 234.5 L1181.8 247.1 L1201.1 247.1 L1201.5 234.5" stroke="#000" stroke-width="2.04" fill="none" stroke-linecap="round" stroke-linejoin="round" />
<path d="M1185.3 240.0 L1198.2 239.4" stroke="#000" stroke-width="2.76" fill="none" stroke-linecap="round" stroke-linejoin="round" />
<path d="M1206.3 237.7 L1217.6 237.4 L1217.6 241.6 L1206.3 241.6 Z" stroke="#000" stroke-width="2.04" fill="none" stroke-linecap="round" stroke-linejoin="round" />
<path d="M1153.1 246.1 L1153.7 261.6" stroke="#000" stroke-width="2.88" fill="none" stroke-linecap="round" stroke-linejoin="round" />
<path d="M1144.4 258.4 L1147.6 269.4 L1158.9 269.4 L1161.8 257.7" stroke="#000" stroke-width="1.44" fill="none" stroke-linecap="round" stroke-linejoin="round" />
<path d="M1148.5 263.5 L1158.2 263.2 M1149.2 266.8 L1157.3 266.5" stroke="#000" stroke-width="2.64" fill="none" stroke-linecap="round" stroke-linejoin="round" />
<path d="M1191.1 246.1 L1191.8 261.6" stroke="#000" stroke-width="2.88" fill="none" stroke-linecap="round" stroke-linejoin="round" />
<path d="M1182.4 258.4 L1185.6 269.4 L1196.9 269.4 L1199.8 257.7" stroke="#000" stroke-width="1.44" fill="none" stroke-linecap="round" stroke-linejoin="round" />
<path d="M1186.6 263.5 L1196.3 263.2 M1187.3 266.8 L1195.3 266.5" stroke="#000" stroke-width="2.64" fill="none" stroke-linecap="round" stroke-linejoin="round" />
<path d="M1117.6 271.6 L1232.1 270.3 Q1236.9 270.3 1236.9 275.2 L1237.3 296.8 Q1237.3 301.3 1232.7 301.3 L1117.6 301.9 Q1113.1 301.9 1112.7 297.4 L1112.4 276.5 Q1112.4 271.9 1117.6 271.6 Z" stroke="#000" stroke-width="2.28" fill="none" stroke-linecap="round" stroke-linejoin="round" />
<path d="M1116.9 271.0 L1228.2 270.0" stroke="#000" stroke-width="1.2" fill="none" stroke-linecap="round" stroke-linejoin="round" />
<path d="M1117.6 301.9 L1118.2 305.8 L1236.9 304.8 L1236.9 300.6" stroke="#000" stroke-width="2.28" fill="none" stroke-linecap="round" stroke-linejoin="round" />
<text x="1113.5" y="329.7" font-size="13" textLength="60.8" lengthAdjust="spacingAndGlyphs" transform="rotate(-2.5 1113.5 329.7)" font-weight="normal" font-style="normal" stroke="#000" stroke-width="0.45">Espresso</text>
<g transform="translate(1188.8 327.4) scale(1.0) rotate(0)">
<ellipse cx="0" cy="0" rx="9" ry="11.2" fill="none" stroke="#000" stroke-width="2.5"/>
<circle cx="-1.1" cy="-15.3" r="2.0" fill="#000"/>
<path d="M-1.1 -15.3 L0.09999999999999987 -10.899999999999999" stroke="#000" stroke-width="1.8" fill="none" stroke-linecap="round" stroke-linejoin="round" />
<ellipse cx="2.2" cy="14.2" rx="2.6" ry="2.1" fill="#000"/>
<path d="M-1.6 -4.5 L-1.1 0.2 L0.6 -0.6 M-1.1 0.2 Q-1.2 2 -2.8 2.8" stroke="#000" stroke-width="1.8" fill="none" stroke-linecap="round" stroke-linejoin="round" />
</g>
<text x="1204" y="325.4" font-size="12.5" textLength="42.5" lengthAdjust="spacingAndGlyphs" transform="rotate(-1 1204 325.4)" font-weight="normal" font-style="normal" stroke="#000" stroke-width="0.45">20sec</text>
<g transform="translate(1150 55) scale(1.0) rotate(0)">
<path d="M32.3 19.4 L26.6 13.5 Q23.9 11.3 20.2 13.7 L12.1 23.4 Q10.0 26.6 12.6 29.0 L18.5 34.7" stroke="#000" stroke-width="2.07" fill="none" stroke-linecap="round" stroke-linejoin="round" />
<path d="M30.6 21.8 L25.8 16.8 Q23.9 15.3 21.8 16.9 L15.3 24.2 Q13.9 26.1 15.6 27.7 L20.2 32.3" stroke="#000" stroke-width="1.48" fill="none" stroke-linecap="round" stroke-linejoin="round" />
<path d="M33.1 17.3 L25.8 30.3 L19.4 34.7" stroke="#000" stroke-width="1.87" fill="none" stroke-linecap="round" stroke-linejoin="round" />
<path d="M33.1 17.3 L37.1 17.7 L46.8 29.8" stroke="#000" stroke-width="1.87" fill="none" stroke-linecap="round" stroke-linejoin="round" />
<path d="M25.8 30.3 Q32.3 30.3 42.3 36.8" stroke="#000" stroke-width="1.67" fill="none" stroke-linecap="round" stroke-linejoin="round" />
<path d="M19.4 34.7 L10.0 43.2 Q8.1 45.5 10.5 47.9 L32.3 70.6 Q36.3 73.4 39.0 69.7 L52.4 48.4 L55.6 40.3" stroke="#000" stroke-width="2.16" fill="none" stroke-linecap="round" stroke-linejoin="round" />
<path d="M50.8 34.7 L54.0 36.8 L62.1 47.6 L51.9 51.6" stroke="#000" stroke-width="1.87" fill="none" stroke-linecap="round" stroke-linejoin="round" />
<path d="M51.9 38.7 L58.1 46.0" stroke="#000" stroke-width="1.18" fill="none" stroke-linecap="round" stroke-linejoin="round" />
<path d="M50.0 41.9 L48.4 53.2" stroke="#000" stroke-width="1.18" fill="none" stroke-linecap="round" stroke-linejoin="round" />
<path d="M75.8 25.8 L55.6 21.1 Q53.5 21.0 52.4 22.6 L41.1 37.9" stroke="#000" stroke-width="1.67" fill="none" stroke-linecap="round" stroke-linejoin="round" />
<path d="M75.8 32.3 L57.7 27.6 Q56.5 27.4 55.6 28.5 L46.8 39.2" stroke="#000" stroke-width="1.67" fill="none" stroke-linecap="round" stroke-linejoin="round" />
<path d="M38.7 38.7 L46.0 44.4 L41.9 50.0 L34.7 44.4 Z" stroke="#000" stroke-width="1.87" fill="#fff" stroke-linecap="round" stroke-linejoin="round" />
<path d="M22.1 38.5 L23.4 36.1 L24.8 38.5 Z" stroke="#000" stroke-width="1.08" fill="#000" stroke-linecap="round" stroke-linejoin="round" />
<path d="M31.0 39.8 L32.3 37.4 L33.7 39.8 Z" stroke="#000" stroke-width="1.08" fill="#000" stroke-linecap="round" stroke-linejoin="round" />
<path d="M27.7 49.5 L29.0 47.1 L30.5 49.5 Z" stroke="#000" stroke-width="1.08" fill="#000" stroke-linecap="round" stroke-linejoin="round" />
<path d="M36.6 60.8 L37.9 58.4 L39.4 60.8 Z" stroke="#000" stroke-width="1.08" fill="#000" stroke-linecap="round" stroke-linejoin="round" />
<ellipse cx="50.8" cy="43.5" rx="1.7" ry="1.4" fill="none" stroke="#000" stroke-width="1.1"/>
<path d="M16.9 46.8 L20.2 49.2 M23.4 51.9 L26.6 54.4 M29.8 58.1 L33.9 62.1" stroke="#000" stroke-width="1.67" fill="none" stroke-linecap="round" stroke-linejoin="round" />
</g>
<text x="1141.3" y="134.6" font-size="12.5" textLength="51.6" lengthAdjust="spacingAndGlyphs" transform="rotate(1.5 1141.3 134.6)" font-weight="normal" font-style="normal" stroke="#000" stroke-width="0.45">Steam</text>
<text x="1151" y="154.6" font-size="14.5" textLength="37.5" lengthAdjust="spacingAndGlyphs" font-weight="normal" font-style="normal" stroke="#000" stroke-width="0.45">Milk</text>
<g transform="translate(1158.7 181) scale(1.0) rotate(0)">
<ellipse cx="0" cy="0" rx="9.7" ry="9.2" fill="none" stroke="#000" stroke-width="2.5"/>
<circle cx="-1.3" cy="-16.6" r="2.0" fill="#000"/>
<path d="M-1.3 -16.6 L-0.10000000000000009 -8.899999999999999" stroke="#000" stroke-width="1.8" fill="none" stroke-linecap="round" stroke-linejoin="round" />
<ellipse cx="1.9" cy="11.8" rx="2.6" ry="2.1" fill="#000"/>
<path d="M-2.2 -3.2 L1.6 -0.2 L-1.8 3.0" stroke="#000" stroke-width="1.92" fill="none" stroke-linecap="round" stroke-linejoin="round" />
</g>
<text x="1178.6" y="172.4" font-size="11" textLength="11.5" lengthAdjust="spacingAndGlyphs" font-weight="normal" font-style="normal" stroke="#000" stroke-width="0.45">10</text>
<text x="1179.2" y="184.3" font-size="11" textLength="21.6" lengthAdjust="spacingAndGlyphs" font-weight="normal" font-style="normal" stroke="#000" stroke-width="0.45">sec</text>
<path d="M1205.6 142 Q1209 152 1219 156 Q1228 157 1240 148.8 Q1254 143.5 1262 147 L1268 151.5" stroke="#000" stroke-width="2.4" fill="none" stroke-linecap="round" stroke-linejoin="round" />
<polygon points="1273.6,155.0 1270.4,145.3 1267.0,149.4 1263.6,153.4" fill="#000" stroke="#000" stroke-width="1.2" stroke-linejoin="round"/>
<path d="M1246 200 Q1250 188 1257 184 Q1262 182 1267 181.8" stroke="#000" stroke-width="2.4" fill="none" stroke-linecap="round" stroke-linejoin="round" />
<polygon points="1273.0,181.7 1264.3,177.5 1264.7,182.4 1265.2,187.3" fill="#000" stroke="#000" stroke-width="1.2" stroke-linejoin="round"/>
<g transform="translate(1298.3 168.5) scale(1.0 1.0)">
<path d="M-0.8 0.4 L43.2 -1" stroke="#000" stroke-width="2.76" fill="none" stroke-linecap="round" stroke-linejoin="round" />
<path d="M1.2 1.2 Q2.2 13 5.5 22.5 Q7.5 29 13 29.6 L36 29.4 Q40.5 29 41.6 24 Q43 10 43 0" stroke="#000" stroke-width="2.52" fill="none" stroke-linecap="round" stroke-linejoin="round" />
<path d="M43 2 L52.5 2.4 Q55.6 2.8 56 6.5 L56.6 13.5 Q56.6 17.4 53 18 L43.5 20.4" stroke="#000" stroke-width="3.48" fill="none" stroke-linecap="round" stroke-linejoin="round" />
<path d="M44.5 5.6 L51.2 5.8 L51.8 15 L44.8 16.2" stroke="#000" stroke-width="1.56" fill="none" stroke-linecap="round" stroke-linejoin="round" />
<ellipse cx="25.3" cy="33.4" rx="23.6" ry="3.0" fill="#fff" stroke="#000" stroke-width="2.5"/>
<circle cx="7.6" cy="6.6" r="1.6" fill="#000"/>
<path d="M8.3 10.5 Q8.8 17 12 24.5" stroke="#000" stroke-width="2.64" fill="none" stroke-linecap="round" stroke-linejoin="round" />
<g transform="translate(0 0)">
<path d="M-12.1 -21.2 L-6 -19.6 L-0.3 -17.6 L-4.9 -16.2 L3.3 -14 L-1.3 -12 L8.7 -9.4" stroke="#000" stroke-width="2.64" fill="none" stroke-linecap="round" stroke-linejoin="round" />
<path d="M11.5 -13.8 L18.7 -14.9 M18.7 -13 L26.9 -14.9 L22.3 -10.3 L30.5 -8.5 L26 -5.8 L32.3 -4.9" stroke="#000" stroke-width="2.64" fill="none" stroke-linecap="round" stroke-linejoin="round" />
</g>
</g>
<text x="1302.5" y="220.9" font-size="15" textLength="50" lengthAdjust="spacingAndGlyphs" font-weight="normal" font-style="normal" stroke="#000" stroke-width="0.45">coffee</text>
<path d="M1245.5 296 Q1249 305 1255 309.5 Q1262 312 1270 312" stroke="#000" stroke-width="2.4" fill="none" stroke-linecap="round" stroke-linejoin="round" />
<polygon points="1276.0,312.4 1268.1,307.8 1268.1,312.4 1268.1,317.0" fill="#000" stroke="#000" stroke-width="1.2" stroke-linejoin="round"/>
<g transform="translate(1298.3 300.5) scale(1.0 1.0)">
<path d="M-0.8 0.4 L43.2 -1" stroke="#000" stroke-width="2.76" fill="none" stroke-linecap="round" stroke-linejoin="round" />
<path d="M1.2 1.2 Q2.2 13 5.5 22.5 Q7.5 29 13 29.6 L36 29.4 Q40.5 29 41.6 24 Q43 10 43 0" stroke="#000" stroke-width="2.52" fill="none" stroke-linecap="round" stroke-linejoin="round" />
<path d="M43 2 L52.5 2.4 Q55.6 2.8 56 6.5 L56.6 13.5 Q56.6 17.4 53 18 L43.5 20.4" stroke="#000" stroke-width="3.48" fill="none" stroke-linecap="round" stroke-linejoin="round" />
<path d="M44.5 5.6 L51.2 5.8 L51.8 15 L44.8 16.2" stroke="#000" stroke-width="1.56" fill="none" stroke-linecap="round" stroke-linejoin="round" />
<ellipse cx="25.3" cy="33.4" rx="23.6" ry="3.0" fill="#fff" stroke="#000" stroke-width="2.5"/>
<circle cx="7.6" cy="6.6" r="1.6" fill="#000"/>
<path d="M8.3 10.5 Q8.8 17 12 24.5" stroke="#000" stroke-width="2.64" fill="none" stroke-linecap="round" stroke-linejoin="round" />
<g transform="translate(0 0)">
<path d="M-12.1 -21.2 L-6 -19.6 L-0.3 -17.6 L-4.9 -16.2 L3.3 -14 L-1.3 -12 L8.7 -9.4" stroke="#000" stroke-width="2.64" fill="none" stroke-linecap="round" stroke-linejoin="round" />
<path d="M11.5 -13.8 L18.7 -14.9 M18.7 -13 L26.9 -14.9 L22.3 -10.3 L30.5 -8.5 L26 -5.8 L32.3 -4.9" stroke="#000" stroke-width="2.64" fill="none" stroke-linecap="round" stroke-linejoin="round" />
</g>
</g>
<text x="1302.5" y="352.9" font-size="15" textLength="50" lengthAdjust="spacingAndGlyphs" font-weight="normal" font-style="normal" stroke="#000" stroke-width="0.45">coffee</text>
<g transform="translate(1158.6 347.2) scale(1.0) rotate(0)">
<path d="M32.3 19.4 L26.6 13.5 Q23.9 11.3 20.2 13.7 L12.1 23.4 Q10.0 26.6 12.6 29.0 L18.5 34.7" stroke="#000" stroke-width="1.89" fill="none" stroke-linecap="round" stroke-linejoin="round" />
<path d="M30.6 21.8 L25.8 16.8 Q23.9 15.3 21.8 16.9 L15.3 24.2 Q13.9 26.1 15.6 27.7 L20.2 32.3" stroke="#000" stroke-width="1.35" fill="none" stroke-linecap="round" stroke-linejoin="round" />
<path d="M33.1 17.3 L25.8 30.3 L19.4 34.7" stroke="#000" stroke-width="1.71" fill="none" stroke-linecap="round" stroke-linejoin="round" />
<path d="M33.1 17.3 L37.1 17.7 L46.8 29.8" stroke="#000" stroke-width="1.71" fill="none" stroke-linecap="round" stroke-linejoin="round" />
<path d="M25.8 30.3 Q32.3 30.3 42.3 36.8" stroke="#000" stroke-width="1.53" fill="none" stroke-linecap="round" stroke-linejoin="round" />
<path d="M19.4 34.7 L10.0 43.2 Q8.1 45.5 10.5 47.9 L32.3 70.6 Q36.3 73.4 39.0 69.7 L52.4 48.4 L55.6 40.3" stroke="#000" stroke-width="1.98" fill="none" stroke-linecap="round" stroke-linejoin="round" />
<path d="M50.8 34.7 L54.0 36.8 L62.1 47.6 L51.9 51.6" stroke="#000" stroke-width="1.71" fill="none" stroke-linecap="round" stroke-linejoin="round" />
<path d="M51.9 38.7 L58.1 46.0" stroke="#000" stroke-width="1.08" fill="none" stroke-linecap="round" stroke-linejoin="round" />
<path d="M50.0 41.9 L48.4 53.2" stroke="#000" stroke-width="1.08" fill="none" stroke-linecap="round" stroke-linejoin="round" />
<path d="M75.8 25.8 L55.6 21.1 Q53.5 21.0 52.4 22.6 L41.1 37.9" stroke="#000" stroke-width="1.53" fill="none" stroke-linecap="round" stroke-linejoin="round" />
<path d="M75.8 32.3 L57.7 27.6 Q56.5 27.4 55.6 28.5 L46.8 39.2" stroke="#000" stroke-width="1.53" fill="none" stroke-linecap="round" stroke-linejoin="round" />
<path d="M38.7 38.7 L46.0 44.4 L41.9 50.0 L34.7 44.4 Z" stroke="#000" stroke-width="1.71" fill="#fff" stroke-linecap="round" stroke-linejoin="round" />
<path d="M22.1 38.5 L23.4 36.1 L24.8 38.5 Z" stroke="#000" stroke-width="0.99" fill="#000" stroke-linecap="round" stroke-linejoin="round" />
<path d="M31.0 39.8 L32.3 37.4 L33.7 39.8 Z" stroke="#000" stroke-width="0.99" fill="#000" stroke-linecap="round" stroke-linejoin="round" />
<path d="M27.7 49.5 L29.0 47.1 L30.5 49.5 Z" stroke="#000" stroke-width="0.99" fill="#000" stroke-linecap="round" stroke-linejoin="round" />
<path d="M36.6 60.8 L37.9 58.4 L39.4 60.8 Z" stroke="#000" stroke-width="0.99" fill="#000" stroke-linecap="round" stroke-linejoin="round" />
<ellipse cx="50.8" cy="43.5" rx="1.7" ry="1.4" fill="none" stroke="#000" stroke-width="1.1"/>
<path d="M16.9 46.8 L20.2 49.2 M23.4 51.9 L26.6 54.4 M29.8 58.1 L33.9 62.1" stroke="#000" stroke-width="1.53" fill="none" stroke-linecap="round" stroke-linejoin="round" />
</g>
<text x="1114.5" y="385.8" font-size="12.5" textLength="51.6" lengthAdjust="spacingAndGlyphs" transform="rotate(1 1114.5 385.8)" font-weight="normal" font-style="normal" stroke="#000" stroke-width="0.45">Steam</text>
<text x="1124.2" y="404.5" font-size="14.5" textLength="38" lengthAdjust="spacingAndGlyphs" font-weight="normal" font-style="normal" stroke="#000" stroke-width="0.45">Milk</text>
<g transform="translate(1128.7 429.9) scale(1.0) rotate(0)">
<ellipse cx="0" cy="0" rx="9.7" ry="9" fill="none" stroke="#000" stroke-width="2.5"/>
<circle cx="-1.3" cy="-16.5" r="2.0" fill="#000"/>
<path d="M-1.3 -16.5 L-0.10000000000000009 -8.7" stroke="#000" stroke-width="1.8" fill="none" stroke-linecap="round" stroke-linejoin="round" />
<ellipse cx="1.9" cy="11.7" rx="2.6" ry="2.1" fill="#000"/>
<path d="M-2.2 -3.2 L1.6 -0.2 L-1.8 3.0" stroke="#000" stroke-width="1.92" fill="none" stroke-linecap="round" stroke-linejoin="round" />
</g>
<text x="1148.6" y="421.5" font-size="11" textLength="11.5" lengthAdjust="spacingAndGlyphs" font-weight="normal" font-style="normal" stroke="#000" stroke-width="0.45">10</text>
<text x="1149.2" y="433.5" font-size="11" textLength="21.6" lengthAdjust="spacingAndGlyphs" font-weight="normal" font-style="normal" stroke="#000" stroke-width="0.45">sec</text>
<path d="M1231 390.4 Q1243 390.8 1248 384 Q1252 377 1253 366 L1254 354 Q1256 344 1263 339.6 L1268 337.2" stroke="#000" stroke-width="2.4" fill="none" stroke-linecap="round" stroke-linejoin="round" />
<polygon points="1273.9,335.0 1264.8,334.1 1266.7,338.3 1268.7,342.5" fill="#000" stroke="#000" stroke-width="1.2" stroke-linejoin="round"/>
</g>
</svg>
</body></html>
